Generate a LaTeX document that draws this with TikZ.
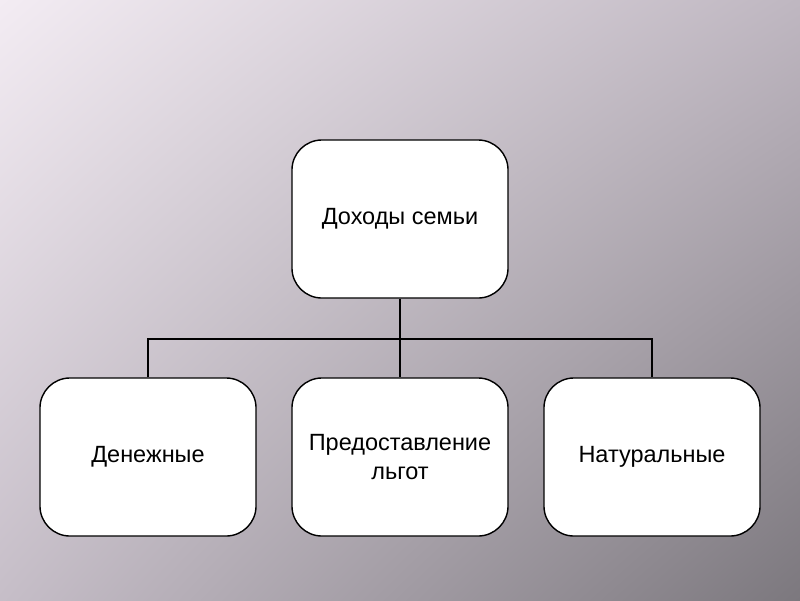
\documentclass[tikz,border=0pt]{standalone}
\usepackage{fontspec}
\setmainfont{Liberation Sans}
\usepackage{tikz}
\usetikzlibrary{positioning,calc,shadings}

\definecolor{bgtl}{HTML}{F3ECF3}
\definecolor{bgtr}{HTML}{BFB7C1}
\definecolor{bgbl}{HTML}{C6BEC8}
\definecolor{bgbr}{HTML}{7C787E}

\tikzset{
    incbox/.style={draw=black, line width=1pt, fill=white, rounded corners=0.75cm,
        minimum width=5.4cm, minimum height=3.95cm, align=center,
        font=\fontsize{16.7}{20.6}\selectfont},
    link/.style={line width=1.1pt}
}

\begin{document}
\begin{tikzpicture}[x=0.025cm, y=-0.025cm]
    % background
    \shade[upper left=bgtl, upper right=bgtr, lower left=bgbl, lower right=bgbr] (0,0) rectangle (800,600);
    \useasboundingbox (0,0) rectangle (800,600);

    \node[incbox] (family) at (400,219) {Доходы семьи};
    \node[incbox] (money)  at (148,457) {Денежные};
    \node[incbox] (privil) at (400,457) {Предоставление\\льгот};
    \node[incbox] (nature) at (652,457) {Натуральные};

    \coordinate (bus) at (400,339);
    \draw[link] (family.south) -- (privil.north);
    \draw[link] (money.north) -- (money.north |- bus) -- (nature.north |- bus) -- (nature.north);
\end{tikzpicture}
\end{document}
